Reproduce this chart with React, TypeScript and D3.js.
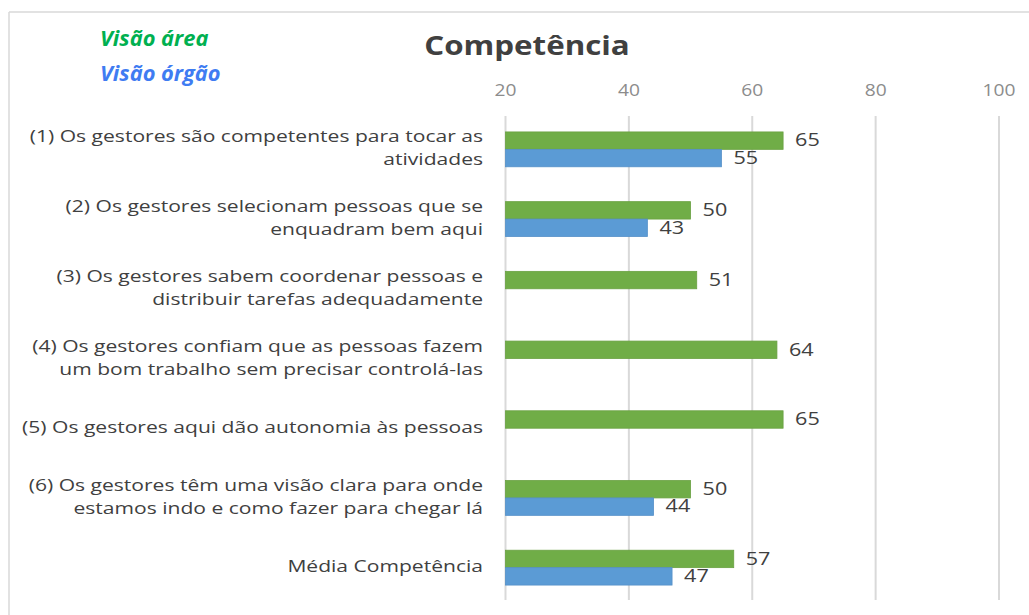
import { useEffect, useRef } from "react";
import * as d3 from "d3";

const CATEGORIES = [
  "(1) Os gestores são competentes para tocar as\natividades",
  "(2) Os gestores selecionam pessoas que se\nenquadram bem aqui",
  "(3) Os gestores sabem coordenar pessoas e\ndistribuir tarefas adequadamente",
  "(4) Os gestores confiam que as pessoas fazem\num bom trabalho sem precisar controlá-las",
  "(5) Os gestores aqui dão autonomia às pessoas",
  "(6) Os gestores têm uma visão clara para onde\nestamos indo e como fazer para chegar lá",
  "Média Competência",
];
const VISAO_AREA = [65, 50, 51, 64, 65, 50, 57];
const VISAO_ORGAO: (number | null)[] = [55, 43, null, null, null, 44, 47];
const TICKS = [20, 40, 60, 80, 100];

const W = 1029;
const H = 615;
const FONT = "'Open Sans', 'DejaVu Sans', sans-serif";

export default function App() {
  const svgRef = useRef<SVGSVGElement>(null);

  useEffect(() => {
    if (!svgRef.current) return;
    const svg = d3.select(svgRef.current);
    svg.selectAll("*").remove();

    const x = d3.scaleLinear().domain([20, 100]).range([505.5, 999]);
    const y = d3
      .scaleBand<string>()
      .domain(CATEGORIES)
      .range([114.5, 602.5])
      .paddingInner(0.5)
      .paddingOuter(0.25);
    const sub = d3
      .scaleBand<string>()
      .domain(["area", "orgao"])
      .range([0, y.bandwidth()]);

    // chart frame (top + left edges visible)
    svg.append("line").attr("x1", 9).attr("x2", W).attr("y1", 12).attr("y2", 12)
      .attr("stroke", "#d9d9d9").attr("stroke-width", 1.5);
    svg.append("line").attr("x1", 9).attr("x2", 9).attr("y1", 12).attr("y2", H)
      .attr("stroke", "#d9d9d9").attr("stroke-width", 1.5);

    // gridlines
    svg.append("g")
      .selectAll("line")
      .data(TICKS)
      .enter()
      .append("line")
      .attr("x1", (d) => x(d))
      .attr("x2", (d) => x(d))
      .attr("y1", 116)
      .attr("y2", 600)
      .attr("stroke", "#d9d9d9")
      .attr("stroke-width", 2);

    // tick labels (source text is rendered horizontally stretched)
    svg.append("g")
      .selectAll("text")
      .data(TICKS)
      .enter()
      .append("text")
      .attr("transform", (d) => `translate(${x(d)},92) scale(1.2,1)`)
      .attr("text-anchor", "middle")
      .attr("dominant-baseline", "middle")
      .attr("fill", "#8c8c8c")
      .style("font-family", FONT)
      .style("font-size", "16px")
      .text((d) => d);

    const rows = CATEGORIES.map((c, i) => ({
      c,
      area: VISAO_AREA[i],
      orgao: VISAO_ORGAO[i],
    }));

    const g = svg.append("g");

    // green bars
    g.selectAll("rect.area")
      .data(rows)
      .enter()
      .append("rect")
      .attr("class", "area")
      .attr("x", x(20))
      .attr("y", (d) => (y(d.c) ?? 0) + (sub("area") ?? 0))
      .attr("width", (d) => x(d.area) - x(20))
      .attr("height", sub.bandwidth())
      .attr("fill", "#70ad47")
      .attr("stroke", "#6aa142")
      .attr("stroke-width", 0.8);

    // blue bars
    const withOrgao = rows.filter((d) => d.orgao != null);
    g.selectAll("rect.orgao")
      .data(withOrgao)
      .enter()
      .append("rect")
      .attr("class", "orgao")
      .attr("x", x(20))
      .attr("y", (d) => (y(d.c) ?? 0) + (sub("orgao") ?? 0))
      .attr("width", (d) => x(d.orgao as number) - x(20))
      .attr("height", sub.bandwidth())
      .attr("fill", "#5b9bd5")
      .attr("stroke", "#5590c8")
      .attr("stroke-width", 0.8);

    // value labels
    const labelStyle = (sel: d3.Selection<SVGTextElement, any, any, any>) =>
      sel
        .attr("dominant-baseline", "middle")
        .attr("fill", "#404040")
        .style("font-family", FONT)
        .style("font-size", "18px");

    g.selectAll("text.area")
      .data(rows)
      .enter()
      .append("text")
      .attr("class", "area")
      .attr("transform", (d) =>
        `translate(${x(d.area) + 12},${(y(d.c) ?? 0) + (sub("area") ?? 0) + sub.bandwidth() / 2 + 1}) scale(1.2,1)`)
      .call(labelStyle)
      .text((d) => d.area);

    g.selectAll("text.orgao")
      .data(withOrgao)
      .enter()
      .append("text")
      .attr("class", "orgao")
      .attr("transform", (d) =>
        `translate(${x(d.orgao as number) + 12},${(y(d.c) ?? 0) + (sub("orgao") ?? 0) + sub.bandwidth() / 2 + 1}) scale(1.2,1)`)
      .call(labelStyle)
      .text((d) => d.orgao as number);

    // category labels
    const cat = svg.append("g")
      .selectAll("text")
      .data(CATEGORIES)
      .enter()
      .append("text")
      .attr("text-anchor", "end")
      .attr("fill", "#404040")
      .style("font-family", FONT)
      .style("font-size", "17px")
      .attr("transform", (d) => `translate(483,${(y(d) ?? 0) + y.bandwidth() / 2}) scale(1.24,1)`);

    cat.each(function (d) {
      const lines = d.split("\n");
      const t = d3.select(this);
      const lh = 23;
      lines.forEach((ln, i) => {
        t.append("tspan")
          .attr("x", 0)
          .attr("y", (i - (lines.length - 1) / 2) * lh)
          .attr("dominant-baseline", "middle")
          .text(ln);
      });
    });

    // title
    svg.append("text")
      .attr("transform", "translate(527,48) scale(1.16,1)")
      .attr("text-anchor", "middle")
      .attr("dominant-baseline", "middle")
      .attr("fill", "#404040")
      .style("font-family", FONT)
      .style("font-size", "27px")
      .style("font-weight", "bold")
      .text("Competência");

    // legend text
    svg.append("text")
      .attr("transform", "translate(100,40) scale(1.04,1)")
      .attr("dominant-baseline", "middle")
      .attr("fill", "#00b050")
      .style("font-family", FONT)
      .style("font-size", "21px")
      .style("font-weight", "bold")
      .style("font-style", "italic")
      .text("Visão área");

    svg.append("text")
      .attr("transform", "translate(100,75) scale(1.04,1)")
      .attr("dominant-baseline", "middle")
      .attr("fill", "#3f7cf2")
      .style("font-family", FONT)
      .style("font-size", "21px")
      .style("font-weight", "bold")
      .style("font-style", "italic")
      .text("Visão órgão");
  }, []);

  return (
    <div style={{ position: "absolute", left: 0, top: 0 }}>
      <svg ref={svgRef} width={W} height={H} style={{ display: "block", background: "#fff" }} />
    </div>
  );
}
